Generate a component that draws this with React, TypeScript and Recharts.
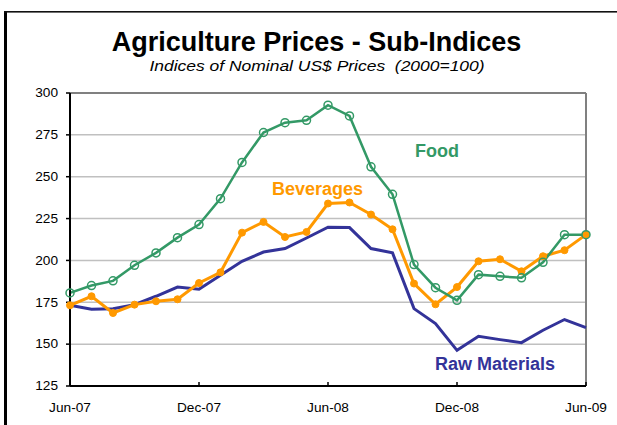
import { LineChart, Line, XAxis, YAxis, CartesianGrid, ReferenceLine } from "recharts";

const months = [
  "Jun-07", "Jul-07", "Aug-07", "Sep-07", "Oct-07", "Nov-07", "Dec-07",
  "Jan-08", "Feb-08", "Mar-08", "Apr-08", "May-08", "Jun-08",
  "Jul-08", "Aug-08", "Sep-08", "Oct-08", "Nov-08", "Dec-08",
  "Jan-09", "Feb-09", "Mar-09", "Apr-09", "May-09", "Jun-09",
];

const food = [
  180.6, 185, 187.8, 197.1, 204.5, 213.6, 221.4, 236.9, 258.5, 276.4, 282.3, 283.7, 292.7,
  286.3, 255.9, 239.5, 197.5, 183.7, 176.2, 191.5, 190.5, 189.6, 198.9, 215.4, 215.4,
];

const beverages = [
  173.2, 178.6, 168.6, 173.6, 175.6, 176.8, 186.5, 192.9, 216.6, 223, 214, 217, 234,
  234.6, 227.4, 218.6, 186.2, 173.8, 184.1, 199.5, 200.7, 193.5, 202.5, 206.1, 215.4,
];

const rawMaterials = [
  173.2, 170.8, 171.2, 173.6, 178.6, 184.1, 182.8, 191.1, 199.5, 205, 207.1, 213.4, 219.8,
  219.6, 207.1, 204.5, 171.2, 162.3, 146.3, 154.7, 152.7, 150.9, 158.3, 164.7, 159.9,
];

const xTicks = [0, 6, 12, 18, 24];
const yTicks = [125, 150, 175, 200, 225, 250, 275, 300];

const data = months.map((m, i) => ({
  i,
  month: m,
  food: food[i],
  beverages: beverages[i],
  raw: rawMaterials[i],
}));

const FONT = "'Liberation Sans', Arial, sans-serif";
const GREEN = "#339966";
const ORANGE = "#FF9900";
const BLUE = "#333399";

function XTick(props: any) {
  const { x, y, payload } = props;
  return (
    <text
      transform={`translate(${x},${y + 29.7}) scale(1.14,1)`}
      textAnchor="middle"
      fontSize={12}
      fontFamily={FONT}
      fill="#000"
    >
      {months[payload.value]}
    </text>
  );
}

function YTick(props: any) {
  const { x, y, payload } = props;
  return (
    <text
      transform={`translate(${x},${y + 4.3}) scale(1.14,1)`}
      textAnchor="end"
      fontSize={12}
      fontFamily={FONT}
      fill="#000"
    >
      {payload.value}
    </text>
  );
}

export default function App() {
  return (
    <div style={{ position: "absolute", left: 0, top: 0, width: 617, height: 425, background: "#fff" }}>
      <LineChart
        width={617}
        height={425}
        data={data}
        margin={{ top: 93, right: 31, bottom: 9, left: 10 }}
      >
        <CartesianGrid vertical={false} stroke="#c0c0c0" strokeWidth={1.5} />
        <XAxis
          dataKey="i"
          type="number"
          domain={[0, 24]}
          ticks={xTicks}
          height={30}
          tickSize={-4}
          tickMargin={0}
          axisLine={{ stroke: "#000", strokeWidth: 2 }}
          tickLine={{ stroke: "#000", strokeWidth: 1.5 }}
          tick={<XTick />}
        />
        <YAxis
          type="number"
          domain={[125, 300]}
          ticks={yTicks}
          width={60}
          tickSize={4}
          tickMargin={8}
          axisLine={{ stroke: "#000", strokeWidth: 2 }}
          tickLine={{ stroke: "#000", strokeWidth: 1.5 }}
          tick={<YTick />}
        />
        <ReferenceLine y={300} stroke="#808080" strokeWidth={2} />
        <ReferenceLine x={24} stroke="#808080" strokeWidth={2} />
        <Line
          type="linear"
          dataKey="raw"
          stroke={BLUE}
          strokeWidth={3}
          dot={false}
          isAnimationActive={false}
        />
        <Line
          type="linear"
          dataKey="beverages"
          stroke={ORANGE}
          strokeWidth={3}
          dot={{ r: 3.5, fill: ORANGE, stroke: ORANGE, strokeWidth: 1 }}
          isAnimationActive={false}
        />
        <Line
          type="linear"
          dataKey="food"
          stroke={GREEN}
          strokeWidth={2.5}
          dot={{ r: 4, fill: "none", stroke: GREEN, strokeWidth: 1.5 }}
          isAnimationActive={false}
        />
      </LineChart>
      <svg
        width={617}
        height={425}
        style={{ position: "absolute", left: 0, top: 0, pointerEvents: "none" }}
      >
        <rect x={4} y={11} width={3} height={414} fill="#000" />
        <rect x={4} y={11} width={613} height={1.6} fill="#111" />
        <text
          x={316.5}
          y={50.7}
          textAnchor="middle"
          fontSize={27}
          fontWeight="bold"
          fontFamily={FONT}
          fill="#000"
        >
          Agriculture Prices - Sub-Indices
        </text>
        <text
          transform="translate(317,70.5) scale(1.165,1)"
          textAnchor="middle"
          fontSize={15}
          fontStyle="italic"
          fontFamily={FONT}
          fill="#000"
          style={{ whiteSpace: "pre" }}
        >
          {"Indices of Nominal US$ Prices  (2000=100)"}
        </text>
        <text x={415} y={157} fontSize={18} fontWeight="bold" fontFamily={FONT} fill={GREEN}>
          Food
        </text>
        <text x={272} y={195} fontSize={18} fontWeight="bold" fontFamily={FONT} fill={ORANGE}>
          Beverages
        </text>
        <text x={435} y={370} fontSize={18} fontWeight="bold" fontFamily={FONT} fill={BLUE}>
          Raw Materials
        </text>
      </svg>
    </div>
  );
}
